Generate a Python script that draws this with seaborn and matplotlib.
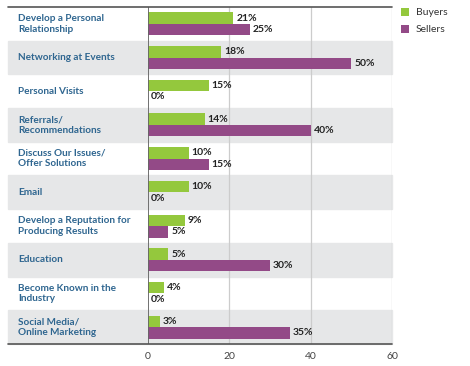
import pandas as pd
import matplotlib.pyplot as plt
import matplotlib.transforms as mtransforms
import seaborn as sns

categories = [
    "Develop a Personal\nRelationship",
    "Networking at Events",
    "Personal Visits",
    "Referrals/\nRecommendations",
    "Discuss Our Issues/\nOffer Solutions",
    "Email",
    "Develop a Reputation for\nProducing Results",
    "Education",
    "Become Known in the\nIndustry",
    "Social Media/\nOnline Marketing",
]
buyers = [21, 18, 15, 14, 10, 10, 9, 5, 4, 3]
sellers = [25, 50, 0, 40, 15, 0, 5, 30, 0, 35]
x_ticks = [0, 20, 40, 60]

GREEN = "#94c83d"
PURPLE = "#934a87"
LABEL_BLUE = "#2f6690"
BAND = "#e6e7e8"

sns.set_theme(style="white")
plt.rcParams["font.family"] = ["Lato", "DejaVu Sans"]

df = pd.DataFrame({
    "category": categories * 2,
    "value": buyers + sellers,
    "group": ["Buyers"] * len(categories) + ["Sellers"] * len(categories),
})

fig = plt.figure(figsize=(4.7, 3.66), dpi=100)
ax = fig.add_axes([148 / 470, 1 - 344 / 366, (392 - 148) / 470, (344 - 7) / 366])

sns.barplot(data=df, y="category", x="value", hue="group", orient="h",
            palette=[GREEN, PURPLE], width=0.68, saturation=1, ax=ax,
            edgecolor="none")

n = len(categories)
ax.set_xlim(0, 60)
ax.set_ylim(n - 0.5, -0.5)

# alternating row bands that reach into the label area
trans = mtransforms.blended_transform_factory(fig.transFigure, ax.transData)
for i in range(n):
    if i % 2 == 1:
        ax.add_patch(plt.Rectangle((8 / 470, i - 0.5), (392 - 8) / 470, 1,
                                   transform=trans, color=BAND, zorder=0,
                                   clip_on=False))
    ax.text(18 / 470, i, categories[i], transform=trans, ha="left", va="center",
            fontsize=7.2, fontweight="bold", color=LABEL_BLUE, linespacing=1.2)

# top and bottom rules
for y in (-0.5, n - 0.5):
    ax.plot([8 / 470, 392 / 470], [y, y], transform=trans, color="#555555",
            lw=1.2, clip_on=False, zorder=5)

for xv in x_ticks[1:]:
    ax.axvline(xv, color="#cccccc", lw=0.9, zorder=0.5)
ax.axvline(0, color="#666666", lw=1.3, zorder=4)

for container in ax.containers:
    ax.bar_label(container, labels=[f"{v:.0f}%" for v in container.datavalues],
                 padding=2, fontsize=7.5, fontweight="bold", color="#222222")

ax.set_xticks(x_ticks)
ax.set_xticklabels([str(t) for t in x_ticks], fontsize=7.5, color="#444444")
ax.tick_params(axis="x", length=0, pad=6)
ax.set_yticks([])
ax.set_xlabel("")
ax.set_ylabel("")
for s in ax.spines.values():
    s.set_visible(False)

sns.move_legend(ax, "upper left", bbox_to_anchor=(1.02, 1.01), frameon=False,
                title=None, fontsize=7.5, handlelength=0.8, handleheight=0.8,
                handletextpad=0.6, labelspacing=0.7, borderaxespad=0.0)
for t in ax.get_legend().get_texts():
    t.set_color("#333333")

fig.savefig("out.png", dpi=100)
